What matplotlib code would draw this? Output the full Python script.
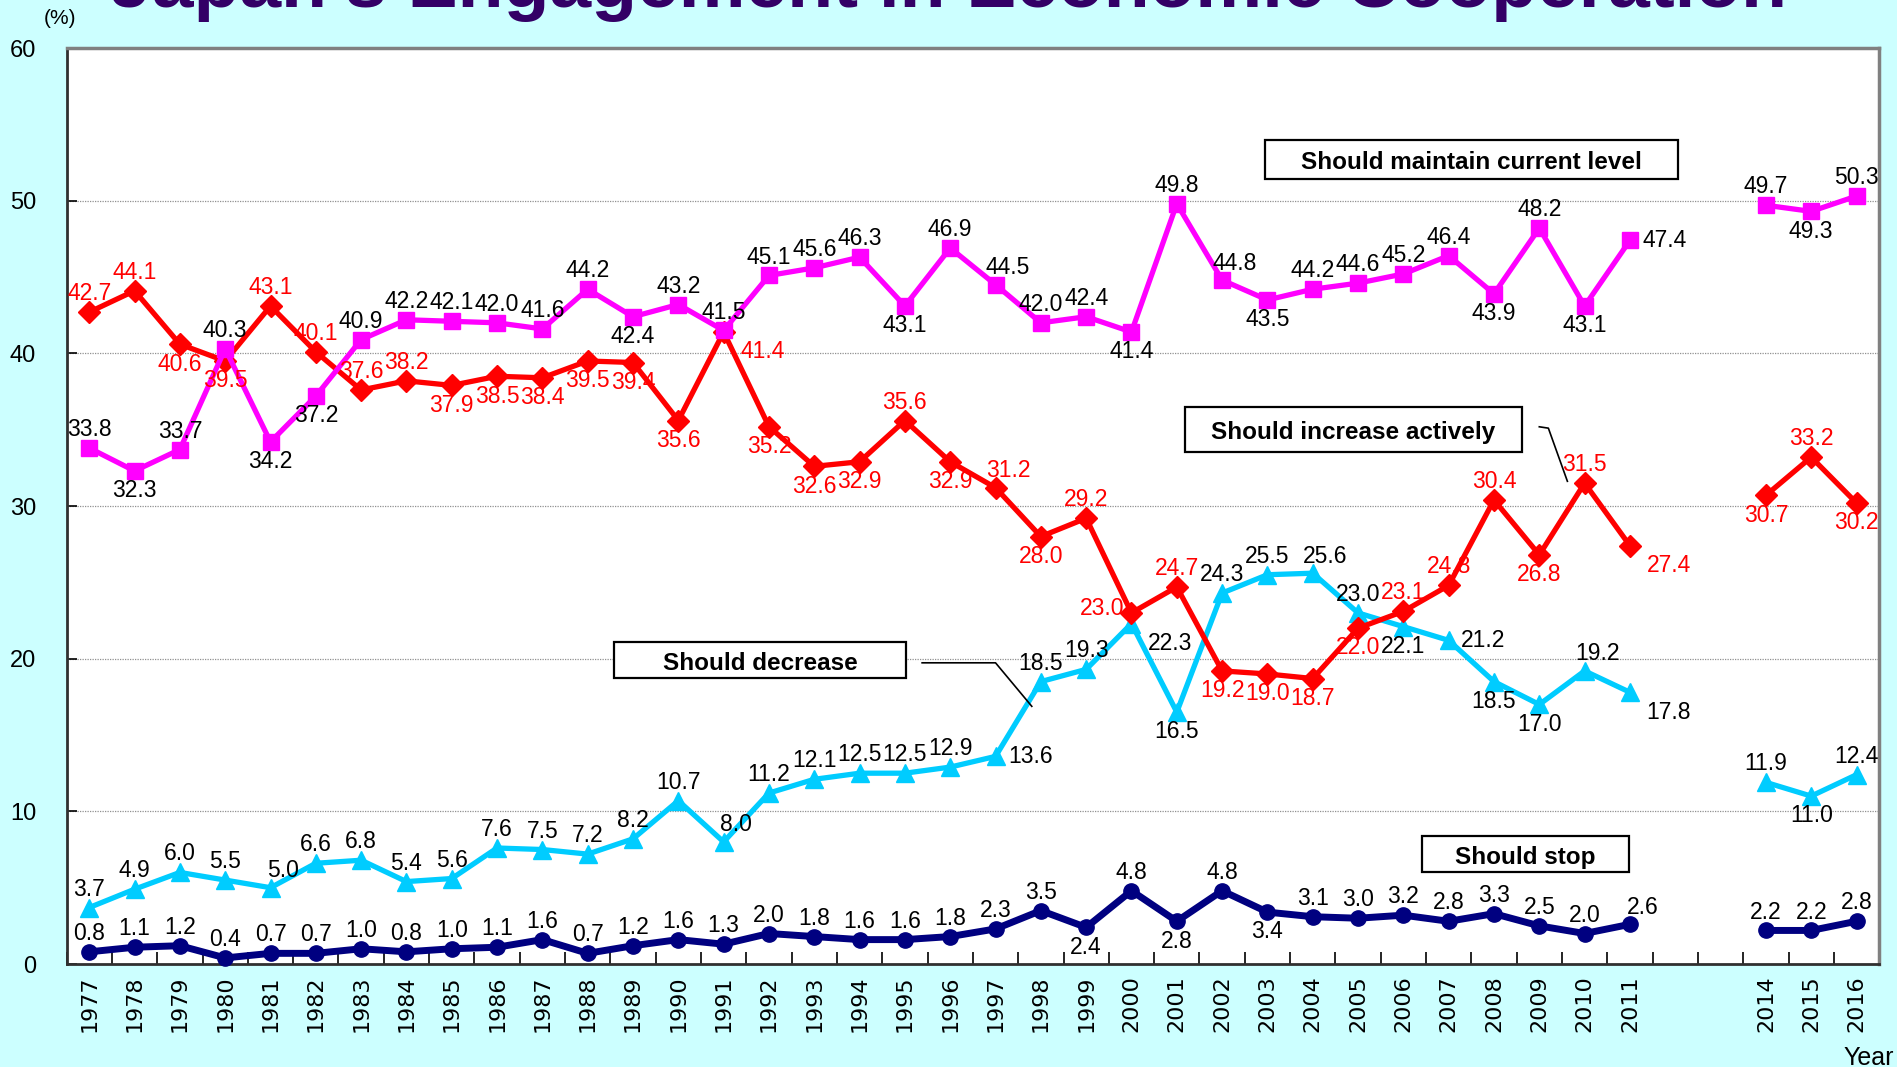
import numpy as np
import matplotlib.pyplot as plt
from matplotlib.patches import Rectangle

# x axis: every year 1977-2016, no survey in 2012 and 2013
axis_years = list(range(1977, 2017))
survey_years = list(range(1977, 2012)) + [2014, 2015, 2016]

maintain = [33.8, 32.3, 33.7, 40.3, 34.2, 37.2, 40.9, 42.2, 42.1, 42.0,
            41.6, 44.2, 42.4, 43.2, 41.5, 45.1, 45.6, 46.3, 43.1, 46.9,
            44.5, 42.0, 42.4, 41.4, 49.8, 44.8, 43.5, 44.2, 44.6, 45.2,
            46.4, 43.9, 48.2, 43.1, 47.4, 49.7, 49.3, 50.3]
increase = [42.7, 44.1, 40.6, 39.5, 43.1, 40.1, 37.6, 38.2, 37.9, 38.5,
            38.4, 39.5, 39.4, 35.6, 41.4, 35.2, 32.6, 32.9, 35.6, 32.9,
            31.2, 28.0, 29.2, 23.0, 24.7, 19.2, 19.0, 18.7, 22.0, 23.1,
            24.8, 30.4, 26.8, 31.5, 27.4, 30.7, 33.2, 30.2]
decrease = [3.7, 4.9, 6.0, 5.5, 5.0, 6.6, 6.8, 5.4, 5.6, 7.6,
            7.5, 7.2, 8.2, 10.7, 8.0, 11.2, 12.1, 12.5, 12.5, 12.9,
            13.6, 18.5, 19.3, 22.3, 16.5, 24.3, 25.5, 25.6, 23.0, 22.1,
            21.2, 18.5, 17.0, 19.2, 17.8, 11.9, 11.0, 12.4]
stop = [0.8, 1.1, 1.2, 0.4, 0.7, 0.7, 1.0, 0.8, 1.0, 1.1,
        1.6, 0.7, 1.2, 1.6, 1.3, 2.0, 1.8, 1.6, 1.6, 1.8,
        2.3, 3.5, 2.4, 4.8, 2.8, 4.8, 3.4, 3.1, 3.0, 3.2,
        2.8, 3.3, 2.5, 2.0, 2.6, 2.2, 2.2, 2.8]

# where each value label sits: a above, b below, r right, l left,
# A above-right, B below-right
place_maintain = "abaabbaaaaaa" + "baaaaab" + "aAaabaAb" + "aaaababr" + "aba"
place_increase = "aabbaaaa" + "bbbbbbB" + "bbbabAbal" + "abbbbaaab" + "aB" + "bab"
place_decrease = "aaaaAaaaaaaaaaA" + "aaaaar" + "aaBbaaAabrbbAB" + "aba"
place_stop = "a" * 22 + "babab" + "a" * 7 + "A" + "aaa"

BG = "#CCFFFF"
LABEL_FONT = ["Liberation Sans", "DejaVu Sans"]

fig = plt.figure(figsize=(18.97, 10.67), dpi=100, facecolor=BG)
ax = fig.add_axes([0.0351, 0.0965, 0.9555, 0.8585])
ax.set_facecolor("white")

pos = {y: i for i, y in enumerate(axis_years)}


def full_series(vals):
    out = np.full(len(axis_years), np.nan)
    for y, v in zip(survey_years, vals):
        out[pos[y]] = v
    return out


offsets = {"a": ((0, 5), "center", "bottom"),
           "b": ((0, -6), "center", "top"),
           "r": ((9, 0), "left", "center"),
           "l": ((-5, 3), "right", "center"),
           "A": ((9, 4), "center", "bottom"),
           "B": ((12, -6), "left", "top")}

series = [
    (stop, "#000080", "o", 11, 5.0, "black", place_stop),
    (decrease, "#00CCFF", "^", 13, 3.8, "black", place_decrease),
    (increase, "#FF0000", "D", 11.5, 3.8, "#FF0000", place_increase),
    (maintain, "#FF00FF", "s", 11.5, 3.8, "black", place_maintain),
]

x_all = np.arange(len(axis_years))
for vals, col, mk, ms, lw, tcol, places in series:
    ax.plot(x_all, full_series(vals), color=col, marker=mk, markersize=ms,
            linewidth=lw, zorder=3, clip_on=False)
    for y, v, p in zip(survey_years, vals, places):
        off, ha, va = offsets[p]
        ax.annotate(f"{v:.1f}", (pos[y], v), xytext=off, textcoords="offset points",
                    ha=ha, va=va, fontsize=16.5, color=tcol, family=LABEL_FONT,
                    zorder=4)

ax.set_xlim(-0.5, len(axis_years) - 0.5)
ax.set_ylim(0, 60)
ax.set_yticks(range(0, 61, 10))
ax.set_yticklabels([str(v) for v in range(0, 61, 10)], family=LABEL_FONT, fontsize=17)
ax.tick_params(axis="y", direction="in", length=7, width=1.2, pad=22)
for g in range(10, 60, 10):
    ax.axhline(g, color="#909090", linestyle=(0, (1, 1)), linewidth=0.9, zorder=1)

# tick marks between categories, labels at centres
ax.set_xticks(np.arange(len(axis_years) + 1) - 0.5)
ax.set_xticklabels([])
ax.tick_params(axis="x", which="major", direction="in", length=9, width=1.2)
ax.set_xticks(x_all, minor=True)
ax.set_xticklabels([str(y) if y in survey_years else "" for y in axis_years],
                   minor=True, rotation=90, fontsize=16)
ax.tick_params(axis="x", which="minor", length=0, pad=8)

for s in ["left", "bottom"]:
    ax.spines[s].set_color("#303030")
    ax.spines[s].set_linewidth(2)
for s in ["top", "right"]:
    ax.spines[s].set_color("#808080")
    ax.spines[s].set_linewidth(2.5)

# boxed series names
boxes = [("Should maintain current level", 30.5, 52.7, 9.12, 2.54),
         ("Should increase actively", 27.9, 35.0, 7.44, 2.93),
         ("Should decrease", 14.8, 19.9, 6.46, 2.38),
         ("Should stop", 31.7, 7.2, 4.56, 2.38)]
for txt, cx, cy, w, h in boxes:
    ax.add_patch(Rectangle((cx - w / 2, cy - h / 2), w, h, facecolor="white",
                           edgecolor="black", linewidth=1.6, zorder=5))
    ax.text(cx, cy - 0.2, txt, ha="center", va="center", fontsize=17.5,
            fontweight="bold", family=LABEL_FONT, zorder=6)

ax.plot([18.38, 20.0, 20.8], [19.73, 19.73, 16.88], color="black", linewidth=1.2, zorder=5)
ax.plot([32.0, 32.2, 32.62], [35.19, 35.1, 31.62], color="black", linewidth=1.2, zorder=5)

fig.text(0.5, 1 - 7 / 1067, "Japan's Engagement in Economic Cooperation",
         ha="center", va="baseline", fontsize=54, fontweight="bold",
         color="#330066", family=["Liberation Sans", "DejaVu Sans"])
fig.text(60 / 1897, 1 - 19 / 1067, "(%)", ha="center", va="center",
         fontsize=15, family=LABEL_FONT)
fig.text(1869 / 1897, 1 - 1058 / 1067, "Year", ha="center", va="center",
         fontsize=18, family=LABEL_FONT)

fig.savefig("out.png", dpi=100, facecolor=BG)
